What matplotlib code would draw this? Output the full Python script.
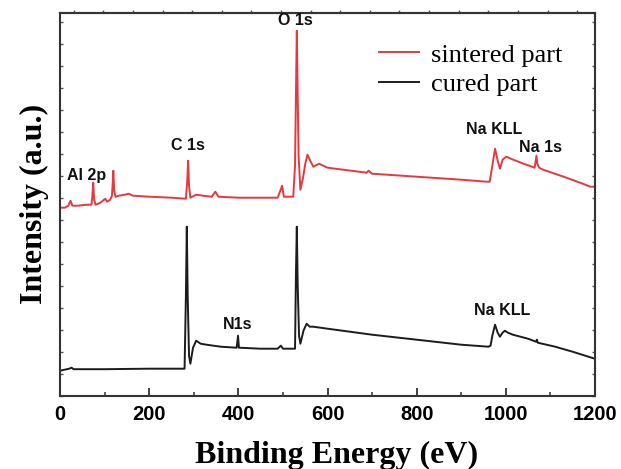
import numpy as np
import matplotlib
matplotlib.use("Agg")
import matplotlib.pyplot as plt
from matplotlib.ticker import MultipleLocator, FixedLocator

# ---- data (arbitrary intensity units) ----
cured_energy = [0, 10, 20, 25, 30, 100, 200, 279, 282, 284, 286, 289, 292, 298, 305,
                315, 328, 360, 396, 399, 401, 450, 488, 495, 500, 527, 529, 531, 533,
                536, 539, 546, 553, 560, 568, 600, 700, 800, 900, 961, 966, 970, 976,
                982, 987, 993, 998, 1005, 1016, 1050, 1068, 1070, 1072, 1111, 1150, 1200]
cured_int = [25, 26, 27, 28, 26.5, 26.5, 27, 27, 100, 169, 100, 40, 32, 48, 55,
             52, 51, 49, 48, 60, 48, 47, 47, 50, 47, 47, 120, 169, 110,
             60, 52, 65, 72, 69, 69, 67, 61, 56, 51, 49, 50, 60, 71,
             63, 59, 63, 65, 63, 61, 57, 54, 56, 53, 49, 44, 37]

sintered_energy = [0, 10, 18, 23, 27, 40, 60, 70, 72, 74, 76, 79, 90, 101, 105, 112,
                   116, 118, 119, 121, 124, 132, 145, 154, 163, 200, 250, 282, 285,
                   287, 289, 292, 305, 320, 340, 348, 355, 400, 440, 488, 494, 498,
                   502, 523, 527, 529, 531, 533, 535, 539, 545, 550, 555, 560, 568,
                   581, 600, 688, 692, 700, 800, 900, 957, 964, 970, 976, 982, 987,
                   993, 1001, 1017, 1040, 1065, 1069, 1071, 1075, 1084, 1130, 1173,
                   1190, 1200]
sintered_int = [188, 188, 190, 195, 190, 190, 191, 191, 200, 213, 196, 191, 193, 197,
                194, 196, 200, 215, 225, 205, 199, 200, 201, 202, 200, 199, 198, 197,
                215, 235, 210, 198, 201, 200, 199, 204, 199, 198, 198, 198, 205, 210,
                199, 199, 230, 300, 365, 300, 240, 206, 218, 232, 241, 236, 229,
                232, 228, 223, 225, 222, 219, 216, 214, 214, 230, 247, 235, 227,
                236, 239, 236, 232, 228, 240, 232, 228, 226, 219, 212, 209, 209]

peak_labels = ["O 1s", "C 1s", "Al 2p", "Na KLL", "Na 1s", "N1s", "Na KLL"]
peak_label_x = [527, 287, 60, 974, 1077, 397, 992]
peak_label_y = [375, 250, 220, 266, 248, 71, 85]

series_names = ["sintered part", "cured part"]
xticks = [0, 200, 400, 600, 800, 1000, 1200]

# ---- figure ----
fig = plt.figure(figsize=(6.21, 4.69), dpi=100)
ax = fig.add_axes([0.0971, 0.1563, 0.9578 - 0.0971, 0.9729 - 0.1563])

red = "#e8383d"
blk = "#1c1c1c"
l1, = ax.plot(sintered_energy, sintered_int, color=red, lw=1.4, label=series_names[0])
l2, = ax.plot(cured_energy, cured_int, color=blk, lw=1.4, label=series_names[1])

ax.set_xlim(0, 1200)
ax.set_ylim(0, 383)

for s in ax.spines.values():
    s.set_linewidth(1.5)
    s.set_color("#333333")

ax.set_xticks(xticks)
ax.xaxis.set_minor_locator(MultipleLocator(100))
ax.tick_params(axis="x", which="major", direction="in", length=6, width=1.3,
               color="#333333", pad=7, top=False)
ax.tick_params(axis="x", which="minor", direction="in", length=3, width=1.1,
               color="#333333", top=False)
for lab in ax.get_xticklabels():
    lab.set_fontfamily("Liberation Sans")
    lab.set_fontweight("bold")
    lab.set_fontsize(14.5)

ax.yaxis.set_major_locator(MultipleLocator(22))
ax.tick_params(axis="y", which="major", direction="in", length=2.5, width=1.0,
               color="#555555", left=True, right=True, labelleft=False)

sec = ax.secondary_xaxis("top")
sec.xaxis.set_major_locator(FixedLocator(list(np.arange(30, 1200, 66.5))))
sec.tick_params(direction="out", length=2.5, width=1.0, color="#555555", labeltop=False)
sec.spines["top"].set_linewidth(1.5)
sec.spines["top"].set_color("#333333")

ax.set_xlabel("Binding Energy (eV)", family="Liberation Serif", fontweight="bold",
              fontsize=23)
ax.xaxis.set_label_coords(0.516, -0.155)
ax.xaxis.label.set_verticalalignment("center")
ax.set_ylabel("Intensity (a.u.)", family="Liberation Serif", fontweight="bold",
              fontsize=23, labelpad=8)

for t, x, y in zip(peak_labels, peak_label_x, peak_label_y):
    ax.text(x, y, t, ha="center", va="center", family="Liberation Sans",
            fontweight="bold", fontsize=11.5, color="#111111")

leg = ax.legend(handles=[l1, l2], loc="upper left", bbox_to_anchor=(0.572, 0.955),
                frameon=False, borderpad=0, handlelength=1.5, handletextpad=0.45,
                labelspacing=0.22, prop={"family": "Liberation Serif", "size": 19})

fig.savefig("out.png", dpi=100)
